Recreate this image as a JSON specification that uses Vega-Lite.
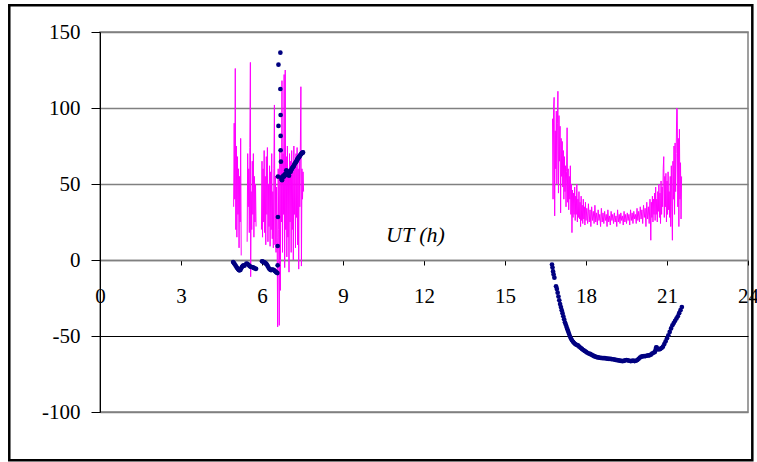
{
  "$schema": "https://vega.github.io/schema/vega-lite/v6.json",
  "width": 648,
  "height": 380,
  "autosize": {"type": "none"},
  "padding": {"left": 100, "top": 32, "right": 9, "bottom": 50},
  "background": "white",
  "config": {
    "font": "Liberation Serif",
    "view": {"stroke": "#808080", "strokeWidth": 1.5}
  },
  "datasets": {
    "mag": [
      {"t":4.95,"v":35,"s":1},{"t":4.97,"v":90,"s":1},{"t":4.99,"v":40,"s":1},{"t":5.01,"v":126,"s":1},{"t":5.03,"v":20,"s":1},{"t":5.05,"v":75,"s":1},{"t":5.07,"v":15,"s":1},{"t":5.09,"v":68,"s":1},{"t":5.11,"v":30,"s":1},{"t":5.13,"v":60,"s":1},{"t":5.15,"v":8,"s":1},{"t":5.17,"v":55,"s":1},{"t":5.19,"v":25,"s":1},{"t":5.21,"v":80,"s":1},{"t":5.23,"v":3,"s":1},
      {"t":5.45,"v":12,"s":2},{"t":5.47,"v":70,"s":2},{"t":5.49,"v":35,"s":2},{"t":5.51,"v":60,"s":2},{"t":5.53,"v":18,"s":2},{"t":5.55,"v":74,"s":2},{"t":5.57,"v":130,"s":2},{"t":5.58,"v":-11,"s":2},{"t":5.6,"v":45,"s":2},{"t":5.62,"v":20,"s":2},{"t":5.64,"v":65,"s":2},{"t":5.66,"v":30,"s":2},{"t":5.68,"v":70,"s":2},{"t":5.7,"v":15,"s":2},{"t":5.72,"v":55,"s":2},{"t":5.74,"v":25,"s":2},{"t":5.76,"v":50,"s":2},{"t":5.78,"v":22,"s":2},
      {"t":5.98,"v":20,"s":3},{"t":6.0,"v":65,"s":3},{"t":6.02,"v":15,"s":3},{"t":6.04,"v":60,"s":3},{"t":6.06,"v":25,"s":3},{"t":6.08,"v":72,"s":3},{"t":6.1,"v":18,"s":3},{"t":6.12,"v":55,"s":3},{"t":6.14,"v":10,"s":3},{"t":6.16,"v":68,"s":3},{"t":6.18,"v":30,"s":3},{"t":6.2,"v":74,"s":3},{"t":6.22,"v":12,"s":3},{"t":6.24,"v":50,"s":3},{"t":6.26,"v":22,"s":3},{"t":6.28,"v":62,"s":3},{"t":6.3,"v":9,"s":3},{"t":6.32,"v":58,"s":3},{"t":6.34,"v":20,"s":3},{"t":6.36,"v":70,"s":3},{"t":6.38,"v":14,"s":3},{"t":6.4,"v":45,"s":3},{"t":6.42,"v":8,"s":3},{"t":6.44,"v":60,"s":3},{"t":6.46,"v":102,"s":3},{"t":6.48,"v":10,"s":3},{"t":6.5,"v":55,"s":3},{"t":6.52,"v":5,"s":3},{"t":6.54,"v":48,"s":3},{"t":6.56,"v":15,"s":3},{"t":6.58,"v":-44,"s":3},{"t":6.6,"v":60,"s":3},{"t":6.62,"v":20,"s":3},{"t":6.64,"v":-43,"s":3},{"t":6.66,"v":72,"s":3},{"t":6.68,"v":-20,"s":3},{"t":6.7,"v":65,"s":3},{"t":6.72,"v":25,"s":3},{"t":6.74,"v":118,"s":3},{"t":6.76,"v":5,"s":3},{"t":6.78,"v":70,"s":3},{"t":6.8,"v":30,"s":3},{"t":6.82,"v":122,"s":3},{"t":6.84,"v":-5,"s":3},{"t":6.86,"v":125,"s":3},{"t":6.88,"v":20,"s":3},{"t":6.9,"v":68,"s":3},{"t":6.92,"v":2,"s":3},{"t":6.94,"v":75,"s":3},{"t":6.96,"v":15,"s":3},{"t":6.98,"v":60,"s":3},{"t":7.0,"v":-8,"s":3},{"t":7.02,"v":70,"s":3},{"t":7.04,"v":25,"s":3},{"t":7.06,"v":65,"s":3},{"t":7.08,"v":5,"s":3},{"t":7.1,"v":72,"s":3},{"t":7.12,"v":20,"s":3},{"t":7.14,"v":58,"s":3},{"t":7.16,"v":0,"s":3},{"t":7.18,"v":75,"s":3},{"t":7.2,"v":30,"s":3},{"t":7.22,"v":62,"s":3},{"t":7.24,"v":8,"s":3},{"t":7.26,"v":70,"s":3},{"t":7.28,"v":28,"s":3},{"t":7.3,"v":74,"s":3},{"t":7.32,"v":10,"s":3},{"t":7.34,"v":60,"s":3},{"t":7.36,"v":-6,"s":3},{"t":7.38,"v":68,"s":3},{"t":7.4,"v":35,"s":3},{"t":7.42,"v":72,"s":3},{"t":7.44,"v":114,"s":3},{"t":7.46,"v":-4,"s":3},{"t":7.48,"v":60,"s":3},{"t":7.5,"v":40,"s":3},{"t":7.52,"v":58,"s":3},{"t":7.54,"v":45,"s":3},
      {"t":16.76,"v":93,"s":4},{"t":16.78,"v":40,"s":4},{"t":16.8,"v":100,"s":4},{"t":16.82,"v":107,"s":4},{"t":16.84,"v":29,"s":4},{"t":16.86,"v":85,"s":4},{"t":16.88,"v":60,"s":4},{"t":16.9,"v":98,"s":4},{"t":16.92,"v":50,"s":4},{"t":16.94,"v":90,"s":4},{"t":16.96,"v":111,"s":4},{"t":16.98,"v":44,"s":4},{"t":17.0,"v":95,"s":4},{"t":17.02,"v":65,"s":4},{"t":17.04,"v":88,"s":4},{"t":17.06,"v":31,"s":4},{"t":17.08,"v":80,"s":4},{"t":17.1,"v":55,"s":4},{"t":17.12,"v":78,"s":4},{"t":17.14,"v":48,"s":4},{"t":17.16,"v":72,"s":4},{"t":17.18,"v":40,"s":4},{"t":17.2,"v":68,"s":4},{"t":17.22,"v":45,"s":4},{"t":17.24,"v":62,"s":4},{"t":17.26,"v":35,"s":4},{"t":17.28,"v":58,"s":4},{"t":17.3,"v":87,"s":4},{"t":17.32,"v":38,"s":4},{"t":17.34,"v":60,"s":4},{"t":17.36,"v":33,"s":4},{"t":17.38,"v":55,"s":4},{"t":17.4,"v":40,"s":4},{"t":17.42,"v":62,"s":4},{"t":17.44,"v":30,"s":4},{"t":17.46,"v":50,"s":4},{"t":17.48,"v":18,"s":4},{"t":17.5,"v":46,"s":4},{"t":17.52,"v":28,"s":4},{"t":17.54,"v":44,"s":4},{"t":17.56,"v":30,"s":4},{"t":17.58,"v":48,"s":4},{"t":17.6,"v":26,"s":4},{"t":17.62,"v":42,"s":4},{"t":17.64,"v":30,"s":4},{"t":17.66,"v":50,"s":4},{"t":17.68,"v":25,"s":4},{"t":17.7,"v":40,"s":4},{"t":17.72,"v":28,"s":4},{"t":17.74,"v":45,"s":4},{"t":17.76,"v":27,"s":4},{"t":17.78,"v":38,"s":4},{"t":17.8,"v":22,"s":4},{"t":17.82,"v":42,"s":4},{"t":17.84,"v":26,"s":4},{"t":17.86,"v":36,"s":4},{"t":17.88,"v":24,"s":4},{"t":17.9,"v":40,"s":4},{"t":17.92,"v":27,"s":4},{"t":17.94,"v":35,"s":4},{"t":17.96,"v":23,"s":4},{"t":17.98,"v":38,"s":4},{"t":18.0,"v":26,"s":4},{"t":18.03,"v":34,"s":4},{"t":18.06,"v":24,"s":4},{"t":18.09,"v":37,"s":4},{"t":18.12,"v":25,"s":4},{"t":18.15,"v":33,"s":4},{"t":18.18,"v":22,"s":4},{"t":18.21,"v":35,"s":4},{"t":18.24,"v":26,"s":4},{"t":18.27,"v":32,"s":4},{"t":18.3,"v":24,"s":4},{"t":18.33,"v":36,"s":4},{"t":18.36,"v":25,"s":4},{"t":18.39,"v":31,"s":4},{"t":18.42,"v":23,"s":4},{"t":18.45,"v":33,"s":4},{"t":18.48,"v":26,"s":4},{"t":18.51,"v":30,"s":4},{"t":18.54,"v":22,"s":4},{"t":18.57,"v":34,"s":4},{"t":18.6,"v":25,"s":4},{"t":18.63,"v":31,"s":4},{"t":18.66,"v":24,"s":4},{"t":18.69,"v":32,"s":4},{"t":18.72,"v":26,"s":4},{"t":18.75,"v":30,"s":4},{"t":18.78,"v":22,"s":4},{"t":18.81,"v":33,"s":4},{"t":18.84,"v":25,"s":4},{"t":18.87,"v":29,"s":4},{"t":18.9,"v":23,"s":4},{"t":18.93,"v":32,"s":4},{"t":18.96,"v":26,"s":4},{"t":18.99,"v":30,"s":4},{"t":19.02,"v":24,"s":4},{"t":19.05,"v":31,"s":4},{"t":19.08,"v":25,"s":4},{"t":19.11,"v":29,"s":4},{"t":19.14,"v":22,"s":4},{"t":19.17,"v":33,"s":4},{"t":19.2,"v":25,"s":4},{"t":19.23,"v":30,"s":4},{"t":19.26,"v":24,"s":4},{"t":19.29,"v":31,"s":4},{"t":19.32,"v":26,"s":4},{"t":19.35,"v":29,"s":4},{"t":19.38,"v":23,"s":4},{"t":19.41,"v":32,"s":4},{"t":19.44,"v":25,"s":4},{"t":19.47,"v":30,"s":4},{"t":19.5,"v":24,"s":4},{"t":19.53,"v":31,"s":4},{"t":19.56,"v":26,"s":4},{"t":19.59,"v":30,"s":4},{"t":19.62,"v":23,"s":4},{"t":19.65,"v":33,"s":4},{"t":19.68,"v":26,"s":4},{"t":19.71,"v":31,"s":4},{"t":19.74,"v":24,"s":4},{"t":19.77,"v":32,"s":4},{"t":19.8,"v":27,"s":4},{"t":19.83,"v":30,"s":4},{"t":19.86,"v":24,"s":4},{"t":19.89,"v":34,"s":4},{"t":19.92,"v":26,"s":4},{"t":19.95,"v":32,"s":4},{"t":19.98,"v":25,"s":4},{"t":20.01,"v":35,"s":4},{"t":20.04,"v":27,"s":4},{"t":20.07,"v":33,"s":4},{"t":20.1,"v":24,"s":4},{"t":20.13,"v":36,"s":4},{"t":20.16,"v":28,"s":4},{"t":20.19,"v":34,"s":4},{"t":20.22,"v":22,"s":4},{"t":20.25,"v":38,"s":4},{"t":20.28,"v":27,"s":4},{"t":20.31,"v":35,"s":4},{"t":20.34,"v":24,"s":4},{"t":20.37,"v":40,"s":4},{"t":20.4,"v":13,"s":4},{"t":20.42,"v":38,"s":4},{"t":20.44,"v":28,"s":4},{"t":20.46,"v":42,"s":4},{"t":20.48,"v":25,"s":4},{"t":20.5,"v":40,"s":4},{"t":20.52,"v":30,"s":4},{"t":20.54,"v":44,"s":4},{"t":20.56,"v":26,"s":4},{"t":20.58,"v":48,"s":4},{"t":20.6,"v":30,"s":4},{"t":20.62,"v":40,"s":4},{"t":20.64,"v":25,"s":4},{"t":20.66,"v":45,"s":4},{"t":20.68,"v":32,"s":4},{"t":20.7,"v":50,"s":4},{"t":20.72,"v":28,"s":4},{"t":20.74,"v":44,"s":4},{"t":20.76,"v":24,"s":4},{"t":20.78,"v":52,"s":4},{"t":20.8,"v":30,"s":4},{"t":20.82,"v":48,"s":4},{"t":20.84,"v":35,"s":4},{"t":20.86,"v":60,"s":4},{"t":20.88,"v":68,"s":4},{"t":20.9,"v":28,"s":4},{"t":20.92,"v":55,"s":4},{"t":20.94,"v":35,"s":4},{"t":20.96,"v":57,"s":4},{"t":20.98,"v":25,"s":4},{"t":21.0,"v":52,"s":4},{"t":21.02,"v":30,"s":4},{"t":21.04,"v":58,"s":4},{"t":21.06,"v":33,"s":4},{"t":21.08,"v":45,"s":4},{"t":21.1,"v":28,"s":4},{"t":21.12,"v":55,"s":4},{"t":21.14,"v":22,"s":4},{"t":21.16,"v":62,"s":4},{"t":21.18,"v":35,"s":4},{"t":21.2,"v":13,"s":4},{"t":21.22,"v":65,"s":4},{"t":21.24,"v":40,"s":4},{"t":21.26,"v":75,"s":4},{"t":21.28,"v":30,"s":4},{"t":21.3,"v":77,"s":4},{"t":21.32,"v":45,"s":4},{"t":21.34,"v":70,"s":4},{"t":21.36,"v":100,"s":4},{"t":21.38,"v":99,"s":4},{"t":21.4,"v":35,"s":4},{"t":21.42,"v":80,"s":4},{"t":21.44,"v":22,"s":4},{"t":21.46,"v":86,"s":4},{"t":21.48,"v":40,"s":4},{"t":21.5,"v":64,"s":4},{"t":21.52,"v":27,"s":4},{"t":21.54,"v":55,"s":4}
    ],
    "navy": [
      {"t":4.93,"v":-1.3},{"t":4.96,"v":-2.0},{"t":4.99,"v":-2.8},{"t":5.02,"v":-3.6},{"t":5.05,"v":-4.5},{"t":5.08,"v":-5.3},{"t":5.11,"v":-6.0},{"t":5.14,"v":-6.6},{"t":5.17,"v":-6.8},{"t":5.2,"v":-6.5},{"t":5.23,"v":-5.5},{"t":5.26,"v":-4.5},{"t":5.29,"v":-3.8},{"t":5.32,"v":-3.5},{"t":5.35,"v":-3.8},
      {"t":5.42,"v":-2.4},{"t":5.46,"v":-2.6},{"t":5.5,"v":-3.2},{"t":5.54,"v":-4.0},{"t":5.58,"v":-4.5},{"t":5.62,"v":-4.6},{"t":5.66,"v":-4.8},{"t":5.7,"v":-5.2},{"t":5.74,"v":-5.6},{"t":5.78,"v":-5.8},
      {"t":6.0,"v":-0.9},{"t":6.03,"v":-1.0},{"t":6.06,"v":-1.3},{"t":6.09,"v":-1.6},{"t":6.12,"v":-2.0},{"t":6.15,"v":-2.4},{"t":6.18,"v":-3.0},{"t":6.21,"v":-4.0},{"t":6.24,"v":-5.0},{"t":6.27,"v":-5.8},{"t":6.3,"v":-6.3},{"t":6.33,"v":-6.6},{"t":6.36,"v":-6.5},{"t":6.39,"v":-6.3},{"t":6.42,"v":-6.4},{"t":6.45,"v":-6.8},{"t":6.48,"v":-7.3},{"t":6.51,"v":-7.8},{"t":6.54,"v":-8.3},{"t":6.57,"v":-8.6},
      {"t":6.58,"v":-3.5},{"t":6.58,"v":9.2},{"t":6.59,"v":28.3},{"t":6.59,"v":54.9},{"t":6.7,"v":64.7},{"t":6.69,"v":72.2},{"t":6.69,"v":81.6},{"t":6.61,"v":88.2},{"t":6.69,"v":95.4},{"t":6.68,"v":112.5},{"t":6.61,"v":128.5},{"t":6.68,"v":136.4},
      {"t":6.72,"v":53.5},{"t":6.74,"v":54.5},{"t":6.74,"v":52.5},{"t":6.76,"v":54},{"t":6.78,"v":55},{"t":6.8,"v":55.5},{"t":6.82,"v":55},{"t":6.84,"v":56},{"t":6.86,"v":56.5},{"t":6.88,"v":56},{"t":6.9,"v":57},{"t":6.9,"v":59},{"t":6.92,"v":57.5},{"t":6.94,"v":56.5},{"t":6.96,"v":57},{"t":6.98,"v":58},{"t":7.0,"v":57.5},{"t":7.0,"v":55.5},{"t":7.02,"v":58},{"t":7.04,"v":58.5},{"t":7.06,"v":58},{"t":7.08,"v":59},{"t":7.1,"v":60},{"t":7.12,"v":60.5},{"t":7.14,"v":61},{"t":7.16,"v":61.5},{"t":7.18,"v":62},{"t":7.2,"v":63},{"t":7.22,"v":63.5},{"t":7.24,"v":64},{"t":7.26,"v":64.5},{"t":7.28,"v":65},{"t":7.3,"v":66},{"t":7.32,"v":66.5},{"t":7.34,"v":67},{"t":7.36,"v":67.5},{"t":7.38,"v":68},{"t":7.4,"v":68.5},{"t":7.42,"v":69},{"t":7.44,"v":69.5},{"t":7.46,"v":70},{"t":7.48,"v":70.3},{"t":7.5,"v":70.6},{"t":7.52,"v":70.8},
      {"t":16.74,"v":-3},{"t":16.76,"v":-5},{"t":16.78,"v":-7.5},{"t":16.8,"v":-9.5},{"t":16.83,"v":-11.6},{"t":16.89,"v":-17.3},{"t":16.92,"v":-19},{"t":16.95,"v":-21.5},{"t":16.98,"v":-24},{"t":17.01,"v":-26.5},{"t":17.04,"v":-29},{"t":17.07,"v":-31},{"t":17.1,"v":-33},{"t":17.13,"v":-35},{"t":17.16,"v":-37},{"t":17.19,"v":-39},{"t":17.22,"v":-41},{"t":17.25,"v":-42.5},{"t":17.28,"v":-44},{"t":17.31,"v":-45.5},{"t":17.34,"v":-47},{"t":17.37,"v":-48.5},{"t":17.4,"v":-50},{"t":17.44,"v":-51.5},{"t":17.48,"v":-52.8},{"t":17.52,"v":-53.8},{"t":17.56,"v":-54.6},{"t":17.6,"v":-55.3},{"t":17.65,"v":-55.8},{"t":17.7,"v":-56.2},{"t":17.75,"v":-57},{"t":17.8,"v":-57.8},{"t":17.85,"v":-58.5},{"t":17.9,"v":-59.2},{"t":17.95,"v":-59.8},{"t":18.0,"v":-60.4},{"t":18.05,"v":-61},{"t":18.1,"v":-61.5},{"t":18.15,"v":-61.8},{"t":18.2,"v":-62.3},{"t":18.25,"v":-62.8},{"t":18.3,"v":-63.3},{"t":18.35,"v":-63.6},{"t":18.4,"v":-63.9},{"t":18.45,"v":-64.1},{"t":18.5,"v":-64.3},{"t":18.55,"v":-64.4},{"t":18.6,"v":-64.5},{"t":18.65,"v":-64.5},{"t":18.7,"v":-64.6},{"t":18.75,"v":-64.8},{"t":18.8,"v":-64.9},{"t":18.85,"v":-65},{"t":18.9,"v":-65.1},{"t":18.95,"v":-65.2},{"t":19.0,"v":-65.3},{"t":19.05,"v":-65.5},{"t":19.1,"v":-65.7},{"t":19.15,"v":-65.9},{"t":19.2,"v":-66.0},{"t":19.25,"v":-66.2},{"t":19.3,"v":-66.4},{"t":19.35,"v":-66.5},{"t":19.4,"v":-66.4},{"t":19.45,"v":-66.0},{"t":19.5,"v":-65.8},{"t":19.55,"v":-66.0},{"t":19.6,"v":-66.3},{"t":19.65,"v":-66.5},{"t":19.7,"v":-66.4},{"t":19.75,"v":-66.2},{"t":19.8,"v":-66.5},{"t":19.85,"v":-66.3},{"t":19.9,"v":-65.8},{"t":19.95,"v":-65.0},{"t":20.0,"v":-64.2},{"t":20.05,"v":-63.6},{"t":20.1,"v":-63.4},{"t":20.15,"v":-63.3},{"t":20.2,"v":-63.2},{"t":20.25,"v":-63.0},{"t":20.3,"v":-62.8},{"t":20.35,"v":-62.7},{"t":20.4,"v":-62.3},{"t":20.45,"v":-61.5},{"t":20.5,"v":-61.0},{"t":20.55,"v":-60.5},{"t":20.58,"v":-59},{"t":20.6,"v":-57.5},{"t":20.62,"v":-57.6},{"t":20.65,"v":-58.6},{"t":20.7,"v":-58.8},{"t":20.75,"v":-58.5},{"t":20.8,"v":-57.9},{"t":20.85,"v":-57},{"t":20.9,"v":-55.3},{"t":20.95,"v":-53.5},{"t":21.0,"v":-51.5},{"t":21.05,"v":-49.5},{"t":21.1,"v":-47.3},{"t":21.15,"v":-45},{"t":21.2,"v":-43},{"t":21.25,"v":-41.5},{"t":21.3,"v":-40},{"t":21.35,"v":-38.5},{"t":21.4,"v":-37},{"t":21.45,"v":-35},{"t":21.5,"v":-33},{"t":21.55,"v":-31}
    ]
  },
  "layer": [
    {
      "data": {"values": [{}]},
      "mark": {"type": "rect", "fill": null, "stroke": "black", "strokeWidth": 2.5, "clip": false},
      "encoding": {
        "x": {"datum": -3.36, "type": "quantitative"},
        "x2": {"datum": 24.16},
        "y": {"datum": 167.6, "type": "quantitative"},
        "y2": {"datum": -131.8}
      }
    },
    {
      "data": {"name": "mag"},
      "mark": {"type": "line", "color": "#FF00FF", "strokeWidth": 1},
      "encoding": {
        "x": {
          "field": "t", "type": "quantitative",
          "scale": {"domain": [0, 24], "nice": false, "zero": false},
          "axis": {
            "values": [0, 3, 6, 9, 12, 15, 18, 21, 24],
            "labelExpr": "'' + datum.value",
            "offset": -152,
            "domainColor": "#808080", "domainWidth": 1.5,
            "tickColor": "black", "tickSize": 5, "tickWidth": 1,
            "labelFontSize": 21, "labelColor": "black", "labelPadding": 20,
            "labelFont": "Liberation Serif", "labelFlush": false, "labelOverlap": false,
            "grid": false,
            "title": "UT (h)",
            "titleFont": "Liberation Serif", "titleFontStyle": "italic", "titleFontWeight": "normal",
            "titleFontSize": 22, "titleColor": "black",
            "titleX": 315, "titleY": -26, "titleAlign": "center", "titleBaseline": "middle", "titleAnchor": null
          }
        },
        "y": {
          "field": "v", "type": "quantitative",
          "scale": {"domain": [-100, 150], "nice": false},
          "axis": {
            "values": [-100, -50, 0, 50, 100, 150],
            "labelExpr": "'' + datum.value",
            "domainColor": "black", "domainWidth": 1,
            "tickColor": "black", "tickSize": 9, "tickWidth": 1,
            "labelFontSize": 21, "labelColor": "black", "labelPadding": 11,
            "labelFont": "Liberation Serif", "labelFlush": false,
            "grid": true,
            "gridColor": {"condition": {"test": "datum.value === -50", "value": "black"}, "value": "#808080"},
            "gridWidth": {"condition": {"test": "datum.value === -50", "value": 1}, "value": 1.5},
            "gridOpacity": 1,
            "title": null
          }
        },
        "detail": {"field": "s", "type": "nominal"}
      }
    },
    {
      "data": {"name": "navy"},
      "mark": {"type": "circle", "color": "#000080", "size": 22, "opacity": 1},
      "encoding": {
        "x": {"field": "t", "type": "quantitative"},
        "y": {"field": "v", "type": "quantitative"}
      }
    }
  ]
}
